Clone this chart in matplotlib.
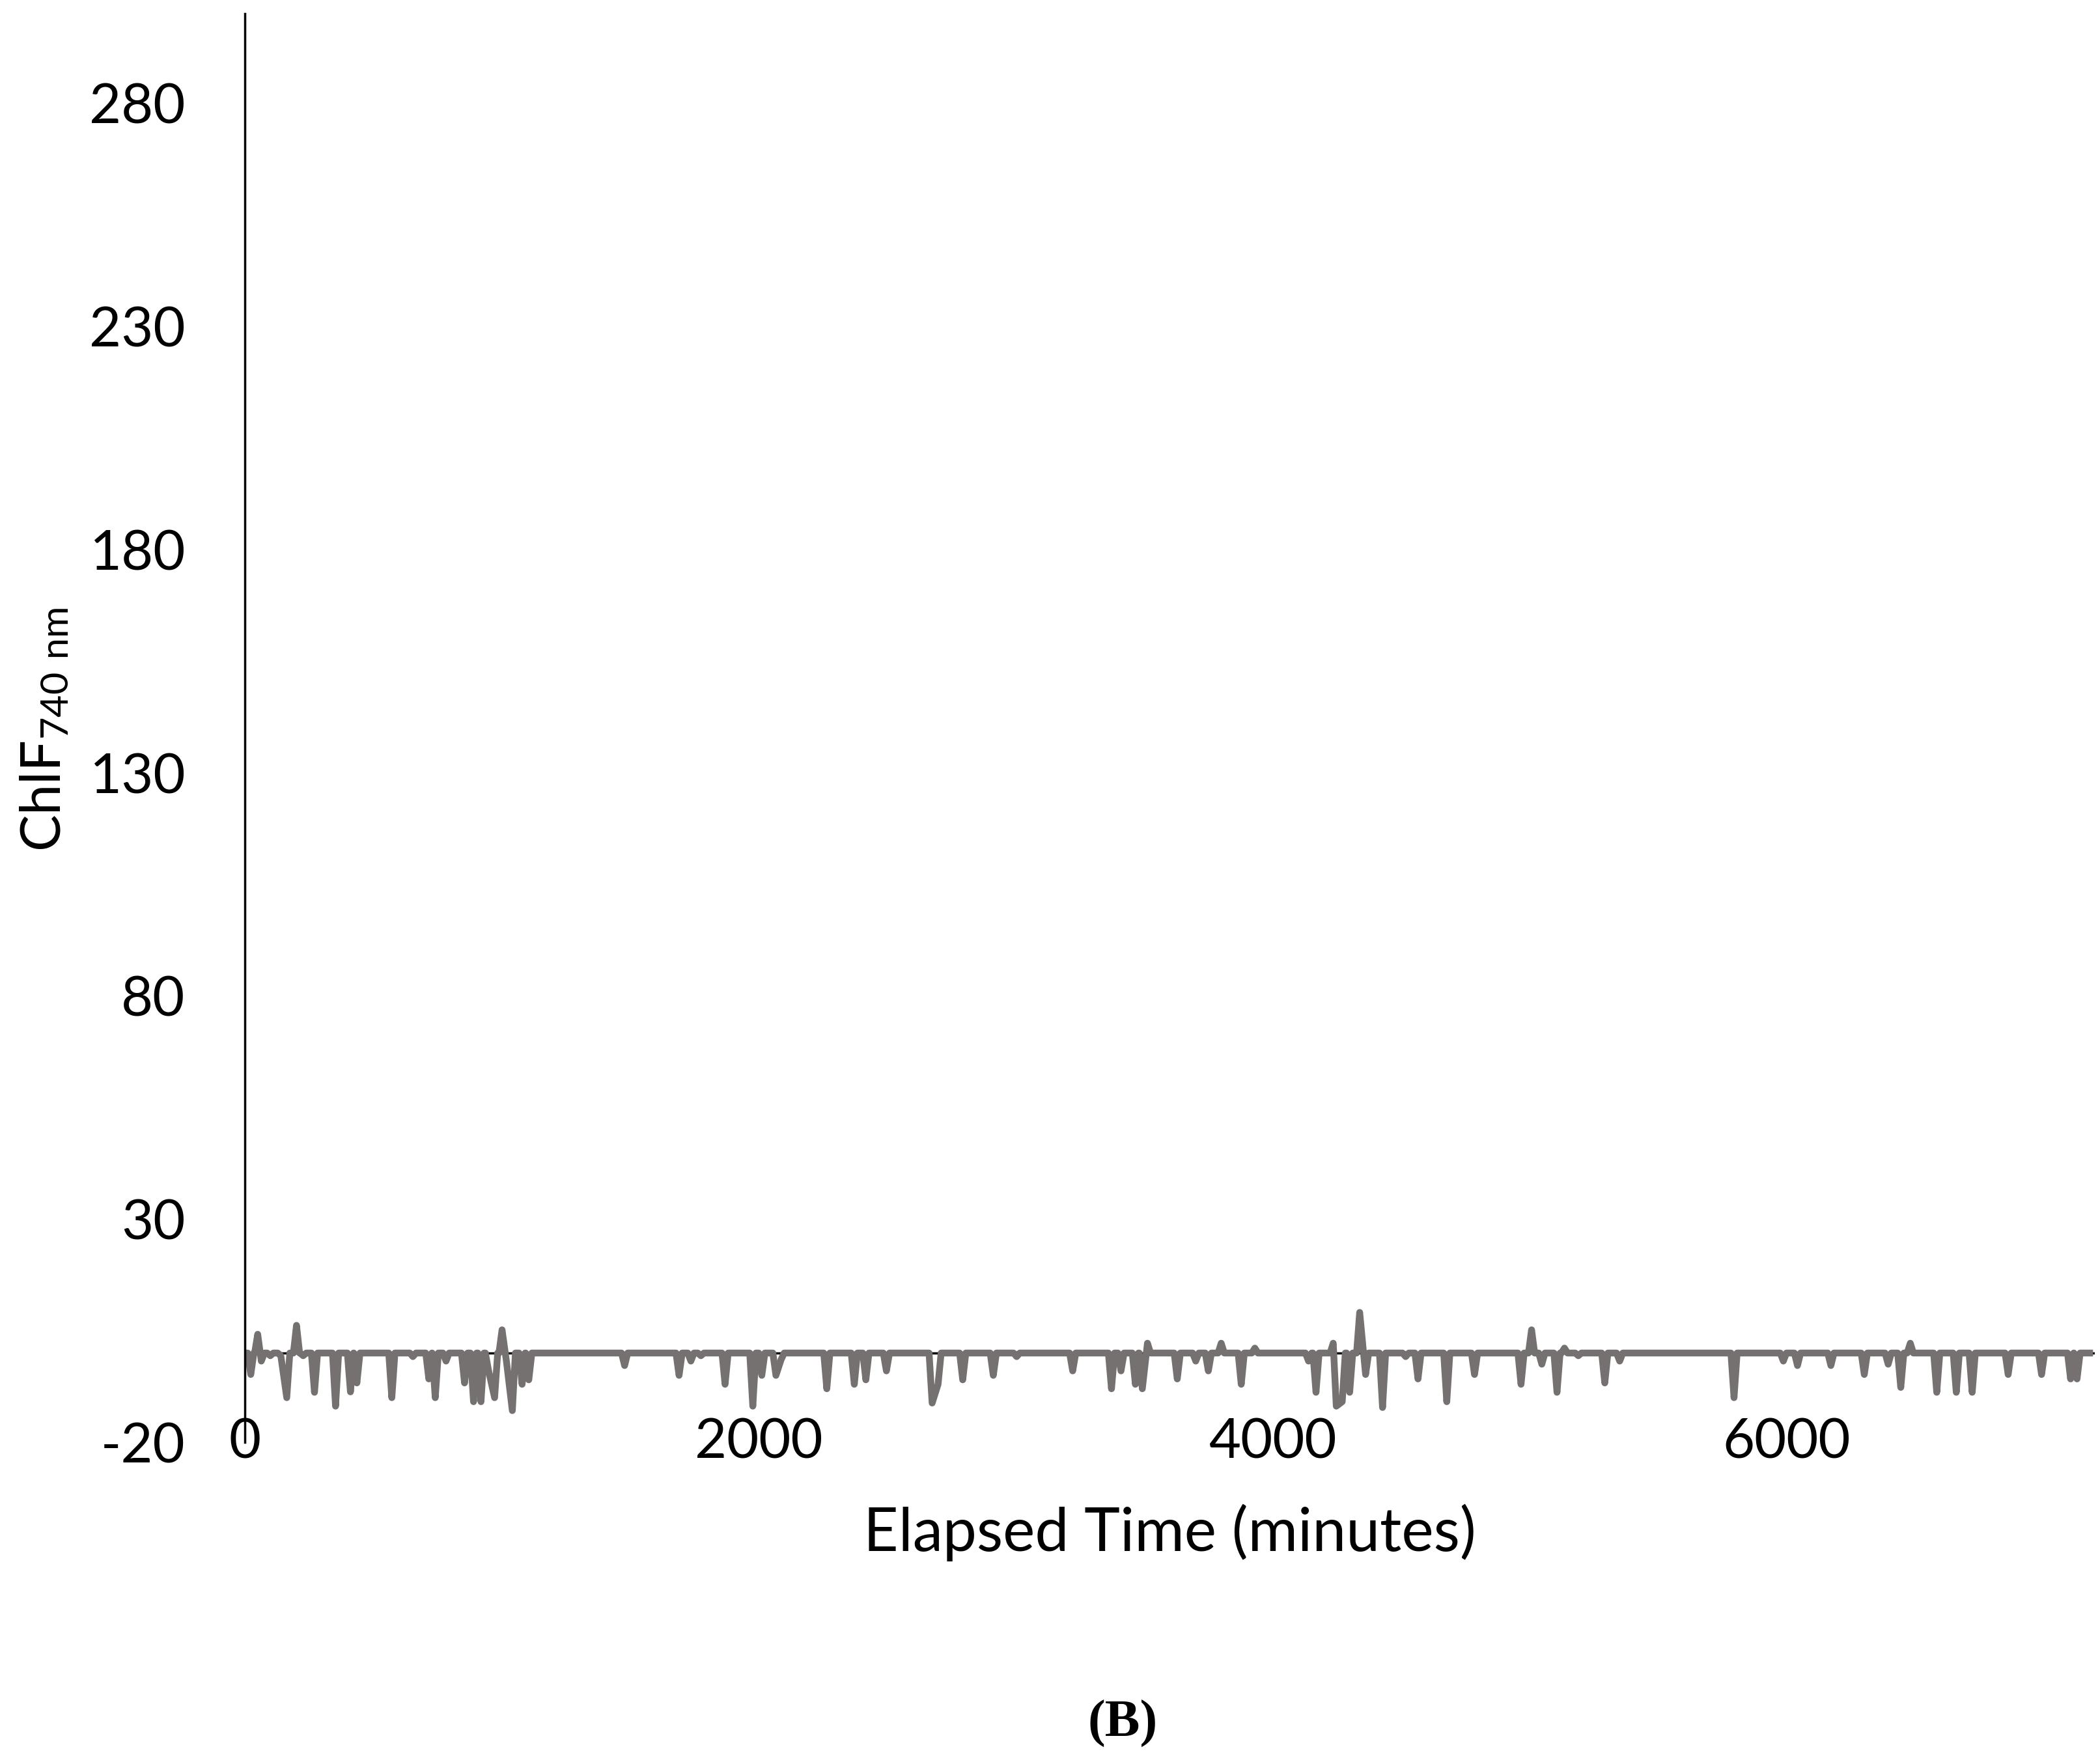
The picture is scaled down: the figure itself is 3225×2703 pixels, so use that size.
import numpy as np
import matplotlib
matplotlib.use('Agg')
from matplotlib import pyplot as plt

plt.rcParams['font.family'] = ['Lato', 'DejaVu Sans']
plt.rcParams['mathtext.default'] = 'regular'
plt.rcParams['axes.unicode_minus'] = False

# spikes (minutes, ChlF value), flat at 0 elsewhere
spike_time = [23, 50, 64, 99, 140, 163, 201, 227, 271, 353, 411, 436, 572, 654, 716, 741,
              783, 855, 890, 919, 948, 972, 1001, 1018, 1041, 1079, 1105, 1478, 1690, 1736,
              1775, 1869, 1977, 2012, 2067, 2087, 2265, 2372, 2417, 2497, 2675, 2698, 2794,
              2913, 3004, 3222, 3373, 3410, 3466, 3493, 3513, 3629, 3701, 3750, 3800, 3878,
              3931, 4140, 4169, 4236, 4248, 4271, 4300, 4339, 4362, 4428, 4518, 4566, 4678,
              4786, 4967, 5008, 5048, 5107, 5136, 5190, 5293, 5351, 5796, 5988, 6043, 6173,
              6303, 6396, 6445, 6482, 6585, 6661, 6723, 6863, 6993, 7106, 7131]
spike_value = [-4.8, 4.2, -1.8, -0.6, -0.6, -10, 6.2, -0.6, -8.8, -11.9, -8.7, -6.7, -10, -0.8,
               -5.8, -10, -1.8, -6.7, -10.9, -10.9, -3.8, -10, 5.2, -1.8, -12.9, -7, -6, -2.8,
               -5, -1.8, -0.6, -7, -11.9, -5, -5, -1.5, -8, -7, -6, -4, -11.2, -7, -6, -5,
               -0.8, -4, -8, -4, -7, -8, 2.2, -5.8, -1.8, -4, 2.2, -7, 1.1, -1.8, -8.8, 2.2,
               -11.9, -10.9, -8.8, 9.1, -4.8, -12.2, -0.8, -5.8, -10.9, -4.8, -7, 5.2, -2.5,
               -8.8, 1.1, -0.6, -6.7, -1.8, -10, -1.8, -2.8, -2.8, -4.8, -2.5, -7.7, 2.2,
               -8.8, -8.8, -8.8, -4.8, -4.8, -5.8, -5.8]
t_start, t_end = 0, 7180

y_ticks = [-20, 30, 80, 130, 180, 230, 280]
x_ticks = [0, 2000, 4000, 6000]

# build the trace: baseline points next to each spike unless another spike is close
w = 12
pts = {t_start: 0.0, t_end: 0.0}
for i, (t, v) in enumerate(zip(spike_time, spike_value)):
    pts[t] = v
    if i == 0 or t - spike_time[i - 1] > 2 * w:
        pts.setdefault(t - w, 0.0)
    if i == len(spike_time) - 1 or spike_time[i + 1] - t > 2 * w:
        pts.setdefault(t + w, 0.0)
tt = np.array(sorted(pts))
yy = np.array([pts[k] for k in tt])

fig = plt.figure(figsize=(32.25, 27.03), dpi=100)
ax = fig.add_axes([0.1166, 0.1805, 0.9975 - 0.1166, 0.9922 - 0.1805])

ax.axhline(0, color='black', lw=2.5, zorder=1)
ax.plot(tt, yy, color='#767171', lw=7.5, solid_joinstyle='round', zorder=2)

ax.set_xlim(0, 7200)
ax.set_ylim(-20, 300)
ax.set_yticks(y_ticks)
ax.set_xticks(x_ticks)
ax.set_xticklabels([str(x) for x in x_ticks])
for s in ['top', 'right', 'bottom']:
    ax.spines[s].set_visible(False)
ax.spines['left'].set_linewidth(2.5)
ax.tick_params(axis='both', length=0, labelsize=61)
ax.tick_params(axis='y', pad=66)
ax.tick_params(axis='x', pad=0)
for lab in ax.get_xticklabels():
    lab.set_va('center')

ax.set_xlabel('Elapsed Time (minutes)', fontsize=67, labelpad=40)

fig.text(68 / 3225, 1 - 1121 / 2703, 'ChlF$_{740\\ nm}$', fontsize=61, rotation=90,
         ha='center', va='center')

fig.text(1724 / 3225, 1 - 2647 / 2703, '(B)', fontsize=58, fontweight='bold',
         family='Liberation Serif', ha='center', va='center')

fig.savefig('out.png', dpi=100)
